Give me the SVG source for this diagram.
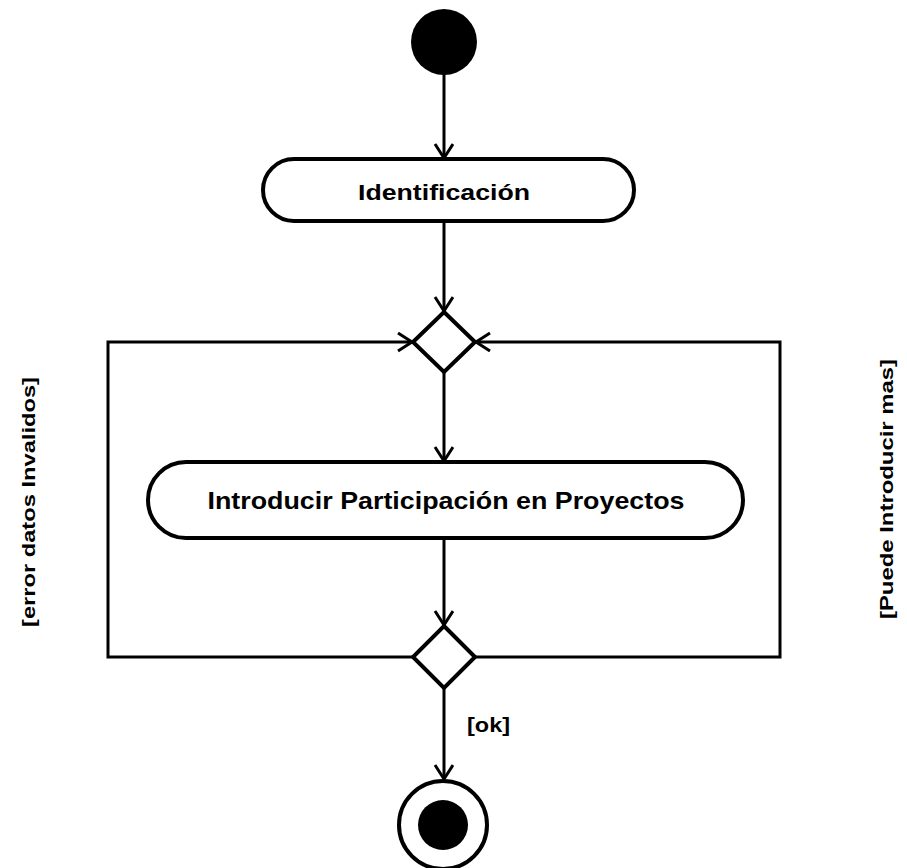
<svg xmlns="http://www.w3.org/2000/svg" width="907" height="868" viewBox="0 0 907 868">
<style>
.node{fill:#fff;stroke:#000;stroke-width:4}
.edge{fill:none;stroke:#000;stroke-width:3}
.lbl{font-family:"Liberation Sans",Arial,sans-serif;font-weight:bold;fill:#000}
</style>
<defs>
<marker id="arr" markerUnits="userSpaceOnUse" markerWidth="24" markerHeight="24" refX="16" refY="10" orient="auto">
<path d="M2,1 L16,10 L2,19" fill="none" stroke="#000" stroke-width="3"/>
</marker>
</defs>
<rect width="907" height="868" fill="#fff"/>
<g id="connectors">
<path class="edge" d="M444,74 L444,158" marker-end="url(#arr)"/>
<path class="edge" d="M444,221 L444,311" marker-end="url(#arr)"/>
<path class="edge" d="M444,372 L444,461" marker-end="url(#arr)"/>
<path class="edge" d="M444,538 L444,625" marker-end="url(#arr)"/>
<path class="edge" d="M444,688 L444,779" marker-end="url(#arr)"/>
<path class="edge" d="M413,657 L108,657 L108,342 L412,342" marker-end="url(#arr)"/>
<path class="edge" d="M475,657 L780,657 L780,342 L476,342" marker-end="url(#arr)"/>
<text class="lbl" x="467" y="732" font-size="21" textLength="43" lengthAdjust="spacingAndGlyphs">[ok]</text>
<text class="lbl" transform="translate(35,502) rotate(-90)" text-anchor="middle" font-size="18" textLength="250" lengthAdjust="spacingAndGlyphs">[error datos Invalidos]</text>
<text class="lbl" transform="translate(893,489) rotate(-90)" text-anchor="middle" font-size="18" textLength="260" lengthAdjust="spacingAndGlyphs">[Puede Introducir mas]</text>
</g>
<g id="start"><circle cx="444" cy="42" r="33" fill="#000"/></g>
<g id="identificacion">
<rect class="node" x="263" y="159" width="371" height="62" rx="31"/>
<text class="lbl" x="444" y="200" text-anchor="middle" font-size="22" textLength="172" lengthAdjust="spacingAndGlyphs">Identificación</text>
</g>
<g id="merge"><polygon class="node" points="444,312 475,342 444,372 413,342"/></g>
<g id="introducir">
<rect class="node" x="148" y="462" width="595" height="76" rx="38"/>
<text class="lbl" x="446" y="509" text-anchor="middle" font-size="24" textLength="477" lengthAdjust="spacingAndGlyphs">Introducir Participación en Proyectos</text>
</g>
<g id="decision"><polygon class="node" points="444,626 475,657 444,688 413,657"/></g>
<g id="end">
<circle cx="443" cy="825" r="44" fill="#fff" stroke="#000" stroke-width="4"/>
<circle cx="443" cy="825" r="25" fill="#000"/>
</g>
</svg>
